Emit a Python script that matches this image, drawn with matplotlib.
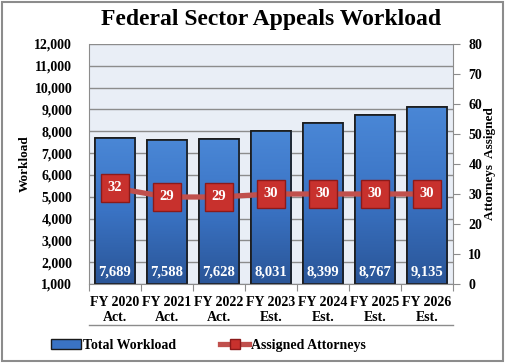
import matplotlib
matplotlib.use("Agg")
import matplotlib.pyplot as plt
import numpy as np
from matplotlib.patches import Rectangle
from matplotlib.lines import Line2D
from matplotlib.colors import LinearSegmentedColormap

categories = ["FY 2020\nAct.", "FY 2021\nAct.", "FY 2022\nAct.", "FY 2023\nEst.",
              "FY 2024\nEst.", "FY 2025\nEst.", "FY 2026\nEst."]
workload = [7689, 7588, 7628, 8031, 8399, 8767, 9135]
attorneys = [32, 29, 29, 30, 30, 30, 30]

plt.rcParams['font.family'] = ['Liberation Serif', 'DejaVu Serif']
plt.rcParams['font.weight'] = 'bold'

fig = plt.figure(figsize=(5.07, 3.63), dpi=100)
fig.patch.set_facecolor('white')
# outer frame
fig.add_artist(Rectangle((0.004, 0.006), 0.988, 0.988, transform=fig.transFigure,
                         fill=False, edgecolor='#8c8c8c', linewidth=1.5))

ax = fig.add_axes([0.1755, 0.2176, 0.7180, 0.6612])
ax.set_facecolor('#E9EEF6')
x = np.arange(len(categories))
ax.set_xlim(-0.5, len(categories) - 0.5)
ax.set_ylim(1000, 12000)
ax.set_yticks(np.arange(1000, 12001, 1000))
ax.set_yticklabels([f"{v:,}" for v in range(1000, 12001, 1000)], fontsize=10, fontweight='bold')
ax.yaxis.grid(True, color='#8c8c8c', linewidth=1)
ax.set_axisbelow(True)
ax.tick_params(axis='y', length=0, pad=12)
for s in ['top', 'right']:
    ax.spines[s].set_visible(False)
ax.spines['left'].set_color('#8c8c8c')
ax.spines['bottom'].set_color('#8c8c8c')

cmap = LinearSegmentedColormap.from_list('b', ['#2A5597', '#3A73C4', '#4A87D6'])
bars = ax.bar(x, workload, width=0.78, bottom=0, color='#3A73C4',
              edgecolor='#1a1a1a', linewidth=1.2, zorder=2)
grad = np.linspace(0, 1, 256).reshape(-1, 1)
for b in bars:
    x0, w = b.get_x(), b.get_width()
    h = b.get_height()
    im = ax.imshow(grad, extent=[x0, x0 + w, 1000, h], origin='lower', cmap=cmap,
                   aspect='auto', zorder=2.1)
    im.set_clip_path(b)
    ax.add_patch(Rectangle((x0, 1000), w, h - 1000, fill=False, edgecolor='#1a1a1a',
                           linewidth=1.2, zorder=2.2))
ax.set_xlim(-0.5, len(categories) - 0.5)
ax.set_ylim(1000, 12000)
for xi, v in zip(x, workload):
    ax.text(xi, 1550, f"{v:,}", ha='center', va='center', color='white',
            fontsize=10.5, fontweight='bold', zorder=5)

ax.set_xticks(np.arange(-0.5, len(categories), 1))
ax.set_xticklabels([])
ax.tick_params(axis='x', length=5, color='#8c8c8c', direction='out')
for xi, c in zip(x, categories):
    ax.text(xi, -0.05, c, transform=ax.get_xaxis_transform(), ha='center', va='top',
            fontsize=10, fontweight='bold', linespacing=1.15)
# lower line under categories
ax.plot([-0.5, len(categories) - 0.5], [-0.172, -0.172], transform=ax.get_xaxis_transform(),
        color='#8c8c8c', linewidth=1, clip_on=False)

ax.set_ylabel('Workload', fontsize=9.5, fontweight='bold')
ax.yaxis.set_label_coords(-0.16, 0.5)

ax2 = ax.twinx()
ax2.set_ylim(0, 80)
ax2.set_yticks(np.arange(0, 81, 10))
ax2.set_yticklabels([str(v) for v in range(0, 81, 10)], fontsize=10, fontweight='bold')
ax2.tick_params(axis='y', length=5, color='#8c8c8c', pad=6)
for s in ['top', 'left', 'bottom']:
    ax2.spines[s].set_visible(False)
ax2.spines['right'].set_color('#8c8c8c')
ax2.plot(x, attorneys, color='#C0504D', linewidth=3.8, zorder=3)
ax2.plot(x, attorneys, linestyle='none', marker='s', markersize=20.5,
         markerfacecolor='#C8312D', markeredgecolor='#8B1A1A', markeredgewidth=1, zorder=4)
for xi, v in zip(x, attorneys):
    ax2.text(xi, v + 0.3, str(v), ha='center', va='center', color='white', fontsize=10.5,
             fontweight='bold', zorder=6)
ax2.set_ylabel('Attorneys  Assigned', fontsize=9.5, fontweight='bold')
ax2.yaxis.set_label_coords(1.084, 0.5)

fig.text(0.535, 0.945, 'Federal Sector Appeals Workload', ha='center', va='center',
         fontsize=17, fontweight='bold')

handles = [Rectangle((0, 0), 1, 1, facecolor='#3A73C4', edgecolor='#1a1a1a'),
           Line2D([], [], color='#C0504D', linewidth=3.8, marker='s', markersize=7,
                  markerfacecolor='#C8312D', markeredgecolor='#8B1A1A')]
fig.legend(handles, ['Total Workload', 'Assigned Attorneys'], loc='center',
           bbox_to_anchor=(0.412, 0.048), ncol=2, frameon=False, fontsize=10,
           columnspacing=3.2, handlelength=2.1, handletextpad=0.15)

fig.savefig('out.png', dpi=100)
